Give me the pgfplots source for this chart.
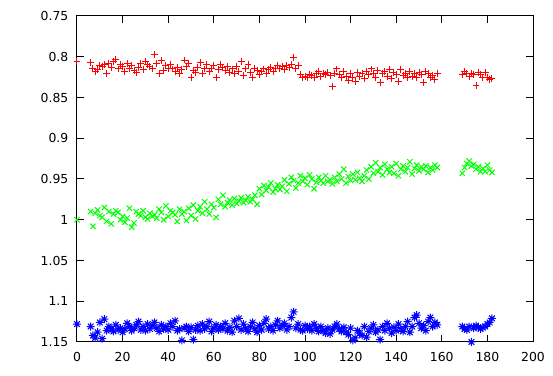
\documentclass[border=0pt]{standalone}
\usepackage{pgfplots}
\pgfplotsset{compat=1.18}
\usepackage{pgfplotstable}
\usepackage{fontspec}
\setmainfont{DejaVu Sans}
\pgfdeclareplotmark{gpstar}{%
 \pgfpathmoveto{\pgfqpoint{-\pgfplotmarksize}{0pt}}\pgfpathlineto{\pgfqpoint{\pgfplotmarksize}{0pt}}%
 \pgfpathmoveto{\pgfqpoint{0pt}{-\pgfplotmarksize}}\pgfpathlineto{\pgfqpoint{0pt}{\pgfplotmarksize}}%
 \pgfpathmoveto{\pgfqpoint{-0.7071\pgfplotmarksize}{-0.7071\pgfplotmarksize}}\pgfpathlineto{\pgfqpoint{0.7071\pgfplotmarksize}{0.7071\pgfplotmarksize}}%
 \pgfpathmoveto{\pgfqpoint{-0.7071\pgfplotmarksize}{0.7071\pgfplotmarksize}}\pgfpathlineto{\pgfqpoint{0.7071\pgfplotmarksize}{-0.7071\pgfplotmarksize}}%
 \pgfusepathqstroke}
\pgfplotstableread{
x r g b
0 0.806 1.000 1.128
6 0.807 0.990 1.131
7 0.814 1.008 1.142
8 0.818 0.992 1.145
9 0.816 0.988 1.138
10 0.811 0.995 1.126
11 0.812 0.997 1.146
12 0.809 0.985 1.122
13 0.820 1.002 1.136
14 0.808 0.990 1.131
15 0.813 1.005 1.134
16 0.806 0.993 1.137
17 0.803 0.989 1.129
18 0.815 0.991 1.135
19 0.809 1.000 1.133
20 0.812 0.996 1.138
21 0.818 1.003 1.134
22 0.808 0.998 1.127
23 0.814 0.986 1.131
24 0.811 1.009 1.136
25 0.817 1.004 1.133
26 0.819 0.990 1.129
27 0.813 0.993 1.125
28 0.808 0.995 1.135
29 0.816 0.989 1.131
30 0.806 0.997 1.136
31 0.810 0.999 1.128
32 0.812 0.992 1.134
33 0.814 0.996 1.130
34 0.797 0.994 1.126
35 0.808 0.998 1.133
36 0.821 0.987 1.137
37 0.805 0.991 1.129
38 0.817 1.000 1.134
39 0.811 0.983 1.131
40 0.814 0.996 1.135
41 0.809 0.989 1.127
42 0.815 0.991 1.131
43 0.818 0.994 1.124
44 0.813 1.002 1.136
45 0.821 0.987 1.134
46 0.816 0.993 1.148
47 0.804 0.990 1.133
48 0.812 1.001 1.131
49 0.808 0.986 1.137
50 0.826 0.995 1.132
51 0.817 0.982 1.147
52 0.819 0.999 1.135
53 0.813 0.989 1.130
54 0.807 0.984 1.136
55 0.820 0.992 1.128
56 0.815 0.978 1.134
57 0.810 0.987 1.131
58 0.818 0.993 1.125
59 0.814 0.981 1.137
60 0.811 0.985 1.133
61 0.826 0.997 1.129
62 0.816 0.975 1.135
63 0.809 0.981 1.131
64 0.813 0.970 1.134
65 0.817 0.984 1.127
66 0.812 0.979 1.136
67 0.819 0.976 1.132
68 0.815 0.982 1.138
69 0.821 0.974 1.124
70 0.812 0.980 1.131
71 0.818 0.977 1.121
72 0.806 0.973 1.135
73 0.823 0.979 1.128
74 0.815 0.976 1.133
75 0.810 0.972 1.137
76 0.819 0.978 1.131
77 0.826 0.975 1.126
78 0.814 0.970 1.134
79 0.817 0.981 1.138
80 0.822 0.962 1.130
81 0.818 0.969 1.135
82 0.815 0.958 1.127
83 0.820 0.964 1.122
84 0.816 0.960 1.134
85 0.813 0.955 1.131
86 0.818 0.966 1.136
87 0.815 0.962 1.129
88 0.811 0.957 1.124
89 0.814 0.963 1.133
90 0.812 0.959 1.130
91 0.816 0.951 1.127
92 0.811 0.965 1.135
93 0.813 0.956 1.131
94 0.809 0.948 1.120
95 0.801 0.952 1.113
96 0.815 0.961 1.133
97 0.811 0.955 1.128
98 0.822 0.946 1.135
99 0.825 0.953 1.136
100 0.824 0.949 1.130
101 0.826 0.957 1.134
102 0.822 0.945 1.131
103 0.823 0.950 1.136
104 0.825 0.962 1.128
105 0.821 0.954 1.133
106 0.818 0.948 1.137
107 0.824 0.952 1.131
108 0.820 0.955 1.136
109 0.822 0.946 1.139
110 0.819 0.953 1.133
111 0.823 0.951 1.140
112 0.837 0.956 1.135
113 0.820 0.948 1.131
114 0.815 0.953 1.128
115 0.822 0.944 1.134
116 0.826 0.950 1.137
117 0.818 0.938 1.132
118 0.824 0.955 1.138
119 0.829 0.947 1.141
120 0.821 0.952 1.133
121 0.826 0.944 1.148
122 0.830 0.951 1.145
123 0.819 0.942 1.136
124 0.824 0.949 1.139
125 0.821 0.953 1.142
126 0.827 0.946 1.131
127 0.818 0.939 1.144
128 0.822 0.950 1.137
129 0.815 0.935 1.133
130 0.820 0.943 1.129
131 0.825 0.930 1.138
132 0.817 0.941 1.135
133 0.832 0.936 1.147
134 0.821 0.945 1.131
135 0.818 0.932 1.136
136 0.824 0.938 1.127
137 0.816 0.942 1.133
138 0.827 0.935 1.139
139 0.819 0.943 1.132
140 0.822 0.931 1.136
141 0.830 0.946 1.128
142 0.816 0.938 1.134
143 0.823 0.934 1.137
144 0.820 0.941 1.131
145 0.826 0.936 1.125
146 0.818 0.929 1.138
147 0.824 0.944 1.131
148 0.821 0.937 1.120
149 0.826 0.933 1.117
150 0.819 0.940 1.127
151 0.822 0.935 1.133
152 0.832 0.938 1.130
153 0.818 0.934 1.136
154 0.821 0.942 1.125
155 0.826 0.936 1.120
156 0.823 0.939 1.131
157 0.828 0.933 1.126
158 0.820 0.936 1.129
169 0.822 0.943 1.131
170 0.818 0.936 1.134
171 0.820 0.931 1.135
172 0.824 0.928 1.131
173 0.820 0.934 1.150
174 0.822 0.932 1.133
175 0.835 0.938 1.130
176 0.819 0.935 1.132
177 0.822 0.941 1.134
178 0.826 0.937 1.132
179 0.819 0.941 1.131
180 0.826 0.933 1.128
181 0.828 0.939 1.126
182 0.827 0.942 1.121
}\datatable
\begin{document}
\begin{tikzpicture}
\begin{axis}[
  scale only axis,
  width=342pt, height=244.5pt,
  xmin=0, xmax=200, ymin=0.75, ymax=1.15,
  y dir=reverse,
  xtick={0,20,...,200},
  ytick={0.75,0.8,0.85,0.9,0.95,1,1.05,1.1,1.15},
  yticklabels={0.75,0.8,0.85,0.9,0.95,1,1.05,1.1,1.15},
  tick align=inside,
  major tick length=5.25pt,
  tick style={black, line width=0.75pt},
  axis line style={black, line width=0.75pt},
  ticklabel style={font=\fontsize{9.3}{11}\selectfont},
  xticklabel style={yshift=-4.5pt},
  yticklabel style={xshift=-3pt},
  /pgf/number format/assume math mode=true,
  clip=false,
]
\addplot[only marks, mark=+, mark size=2.6pt, color={rgb,255:red,255;green,0;blue,0}, line width=0.75pt] table[x=x, y=r] {\datatable};
\addplot[only marks, mark=x, mark size=2.8pt, color={rgb,255:red,0;green,255;blue,0}, line width=0.75pt] table[x=x, y=g] {\datatable};
\addplot[only marks, mark=gpstar, mark size=3pt, color={rgb,255:red,0;green,0;blue,255}, line width=0.75pt] table[x=x, y=b] {\datatable};
\end{axis}
\pgfresetboundingbox
\path ([xshift=-57.75pt, yshift=-25.5pt]current axis.south west) rectangle ([xshift=15pt, yshift=12pt]current axis.north east);
\end{tikzpicture}
\end{document}
